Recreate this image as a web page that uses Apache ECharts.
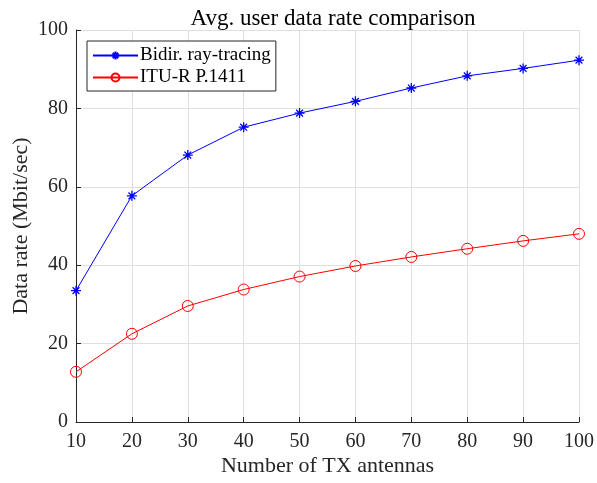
<!DOCTYPE html>
<html>
<head>
<meta charset="utf-8">
<script src="https://cdn.jsdelivr.net/npm/echarts@6/dist/echarts.min.js"></script>
<style>
  html, body { margin: 0; padding: 0; background: #fff; }
  #chart { width: 597px; height: 483px; }
</style>
</head>
<body>
<div id="chart"></div>
<script>
// number of TX antennas (x axis)
const antennas = [10, 20, 30, 40, 50, 60, 70, 80, 90, 100]
// average user data rate, Mbit/sec
const rayTracing = [33.5, 57.7, 68.1, 75.2, 78.8, 81.8, 85.2, 88.3, 90.2, 92.3]
const ituP1411 = [12.8, 22.5, 29.6, 33.8, 37.1, 39.8, 42.1, 44.2, 46.2, 48.0]
const seriesNames = ['Bidir. ray-tracing', 'ITU-R P.1411']

const font = 'Liberation Serif, Times New Roman, serif'
const textColor = '#262626'
// asterisk marker like matlab '*'
const asterisk = 'path://M5,0L5,10M0,5L10,5M1.6,1.6L8.4,8.4M1.6,8.4L8.4,1.6'

const chart = echarts.init(document.getElementById('chart'))

const option = {
  backgroundColor: '#fff',
  animation: false,
  title: {
    text: 'Avg. user data rate comparison',
    left: 328,
    textAlign: 'center',
    top: 2,
    textStyle: { fontFamily: font, fontSize: 23, fontWeight: 'normal', color: '#000' }
  },
  legend: {
    orient: 'vertical',
    left: 87,
    top: 41,
    padding: [5, 5, 4, 5],
    itemGap: 3,
    itemWidth: 45,
    itemHeight: 10,
    backgroundColor: '#fff',
    borderColor: textColor,
    borderWidth: 1,
    textStyle: { fontFamily: font, fontSize: 19, color: '#000', padding: [0, 0, 0, -3] },
    data: seriesNames
  },
  grid: { left: 76, right: 18, top: 30, bottom: 61, outerBoundsMode: 'none', containLabel: false },
  xAxis: {
    type: 'value',
    min: 10,
    max: 100,
    interval: 10,
    name: 'Number of TX antennas',
    nameLocation: 'middle',
    nameGap: 33,
    nameMoveOverlap: false,
    nameTextStyle: { fontFamily: font, fontSize: 22, color: textColor },
    axisLine: { onZero: false, lineStyle: { color: textColor, width: 1 } },
    axisTick: { inside: true, length: 5, lineStyle: { color: textColor } },
    axisLabel: { fontFamily: font, fontSize: 20, color: textColor, margin: 10 },
    splitLine: { show: true, lineStyle: { color: '#dfdfdf', width: 1 } }
  },
  yAxis: {
    type: 'value',
    min: 0,
    max: 100,
    interval: 20,
    name: 'Data rate (Mbit/sec)',
    nameLocation: 'middle',
    nameGap: 44,
    nameMoveOverlap: false,
    nameTextStyle: { fontFamily: font, fontSize: 22, color: textColor },
    axisLine: { show: true, lineStyle: { color: textColor, width: 1 } },
    axisTick: { show: true, inside: true, length: 5, lineStyle: { color: textColor } },
    axisLabel: { fontFamily: font, fontSize: 20, color: textColor, margin: 8 },
    splitLine: { show: true, lineStyle: { color: '#dfdfdf', width: 1 } }
  },
  series: [
    {
      name: seriesNames[0],
      type: 'line',
      data: antennas.map((x, i) => [x, rayTracing[i]]),
      symbol: asterisk,
      symbolSize: 10,
      lineStyle: { color: '#0000ff', width: 1 },
      itemStyle: { color: 'rgba(0,0,0,0)', borderColor: '#0000ff', borderWidth: 1.3 }
    },
    {
      name: seriesNames[1],
      type: 'line',
      data: antennas.map((x, i) => [x, ituP1411[i]]),
      symbol: 'circle',
      symbolSize: 11,
      lineStyle: { color: '#ff0000', width: 1 },
      itemStyle: { color: 'rgba(0,0,0,0)', borderColor: '#ff0000', borderWidth: 1 }
    }
  ]
}

chart.setOption(option)
</script>
</body>
</html>
